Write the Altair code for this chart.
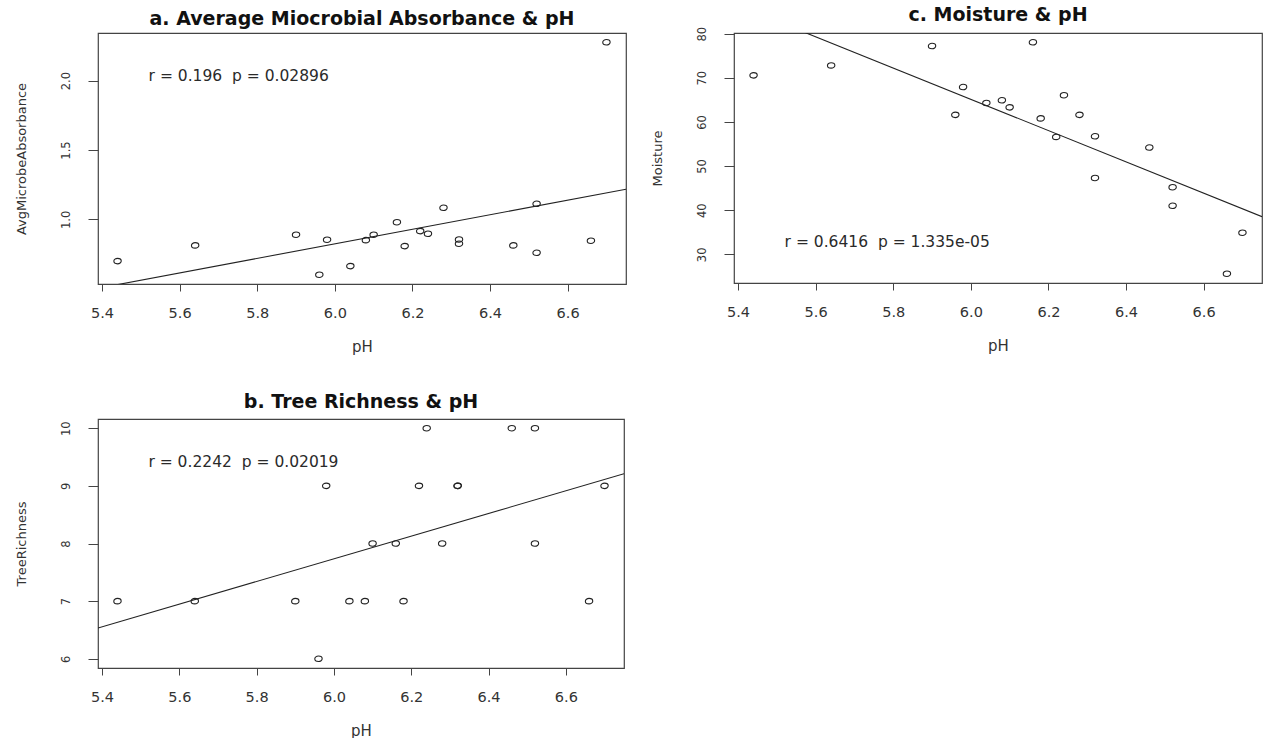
import altair as alt
import pandas as pd

# ---- data ----
ph = [5.44, 5.64, 5.90, 5.96, 5.98, 6.04, 6.08, 6.10, 6.16, 6.18,
      6.22, 6.24, 6.28, 6.32, 6.32, 6.46, 6.52, 6.52, 6.66, 6.70]
absorbance = [0.70, 0.813, 0.89, 0.602, 0.854, 0.664, 0.851, 0.89, 0.98, 0.808,
              0.916, 0.897, 1.084, 0.856, 0.825, 0.813, 1.113, 0.76, 0.847, 2.276]
moisture = [70.55, 72.8, 77.2, 61.6, 67.9, 64.3, 64.9, 63.3, 78.05, 60.8,
            56.6, 66.05, 61.6, 56.75, 47.3, 54.2, 45.2, 41.0, 25.6, 34.9]
richness = [7, 7, 7, 6, 9, 7, 7, 8, 8, 7,
            9, 10, 8, 9, 9, 10, 10, 8, 7, 9]

x_ticks = [5.4, 5.6, 5.8, 6.0, 6.2, 6.4, 6.6]
abs_ticks = [1.0, 1.5, 2.0]
moist_ticks = [30, 40, 50, 60, 70, 80]
rich_ticks = [6, 7, 8, 9, 10]

titles = ["a. Average Miocrobial Absorbance & pH", "c. Moisture & pH", "b. Tree Richness & pH"]
NB = "\u00a0"
stats = ["r = 0.196 " + NB + "p = 0.02896",
         "r = 0.6416 " + NB + "p = 1.335e-05",
         "r = 0.2242 " + NB + "p = 0.02019"]

FONT = "DejaVu Sans"
INK = "#222222"
ELLIPSE = "M -1.35 0 A 1.35 1 0 1 0 1.35 0 A 1.35 1 0 1 0 -1.35 0 Z"


def r_range(v):
    lo, hi = min(v), max(v)
    d = (hi - lo) * 0.04
    return [lo - d, hi + d]


XDOM = r_range(ph)


def panel(yvals, ycol, ytitle, yticks, title, stat, stat_y, w, h, toff):
    df = pd.DataFrame({"pH": ph, ycol: yvals})
    ydom = r_range(yvals)
    xenc = alt.X("pH:Q", scale=alt.Scale(domain=XDOM, nice=False, zero=False),
                 axis=alt.Axis(values=x_ticks, format=".1f", title="pH"))
    yenc = alt.Y(f"{ycol}:Q", scale=alt.Scale(domain=ydom, nice=False, zero=False),
                 axis=alt.Axis(values=yticks, format=".1f" if ycol == "AvgMicrobeAbsorbance" else "d",
                               title=ytitle))
    base = alt.Chart(df)
    pts = base.mark_point(shape=ELLIPSE, size=30, filled=False, stroke=INK,
                          strokeWidth=1.1, opacity=1).encode(x=xenc, y=yenc)
    line = base.transform_regression("pH", ycol, extent=XDOM).mark_line(
        clip=True, color=INK, strokeWidth=1.1).encode(x="pH:Q", y=f"{ycol}:Q")
    txt = alt.Chart(pd.DataFrame({"s": [stat]})).mark_text(
        align="left", baseline="middle", font=FONT, fontSize=15.5, color="#2a2a2a").encode(
        x=alt.datum(5.52), y=alt.datum(stat_y), text="s:N")
    return alt.layer(line, pts, txt).properties(
        width=w, height=h,
        title=alt.TitleParams(title, font=FONT, fontSize=19, fontWeight="bold",
                              color="#111111", offset=toff, anchor="middle"))


pa = panel(absorbance, "AvgMicrobeAbsorbance", "AvgMicrobeAbsorbance", abs_ticks,
           titles[0], stats[0], 2.03, 528, 251, 4)
pc = panel(moisture, "Moisture", "Moisture", moist_ticks,
           titles[1], stats[1], 32.7, 528, 250, 1)
pb = panel(richness, "TreeRichness", "TreeRichness", rich_ticks,
           titles[2], stats[2], 9.41, 526, 249, 7)

chart = alt.vconcat(alt.hconcat(pa, pc, spacing=23), pb, spacing=36).properties(
    padding={"left": 14, "top": 5, "right": 0, "bottom": 0},
    background="white"
).configure_view(stroke="#444444", strokeWidth=1.2).configure_axis(
    domain=False, grid=False, tickColor="#444444", tickWidth=1,
    labelFont=FONT, titleFont=FONT, labelColor="#333333", titleColor="#333333",
    titleFontWeight="normal"
).configure_axisX(
    tickSize=7, labelFontSize=14.5, labelPadding=15, titleFontSize=15, titlePadding=20
).configure_axisY(
    tickSize=10, labelFontSize=11.5, labelAngle=270, labelAlign="center",
    labelBaseline="bottom", labelPadding=17, titleFontSize=13, titlePadding=32
)

chart.save("out.html", embed_options={"renderer": "svg", "actions": False})
